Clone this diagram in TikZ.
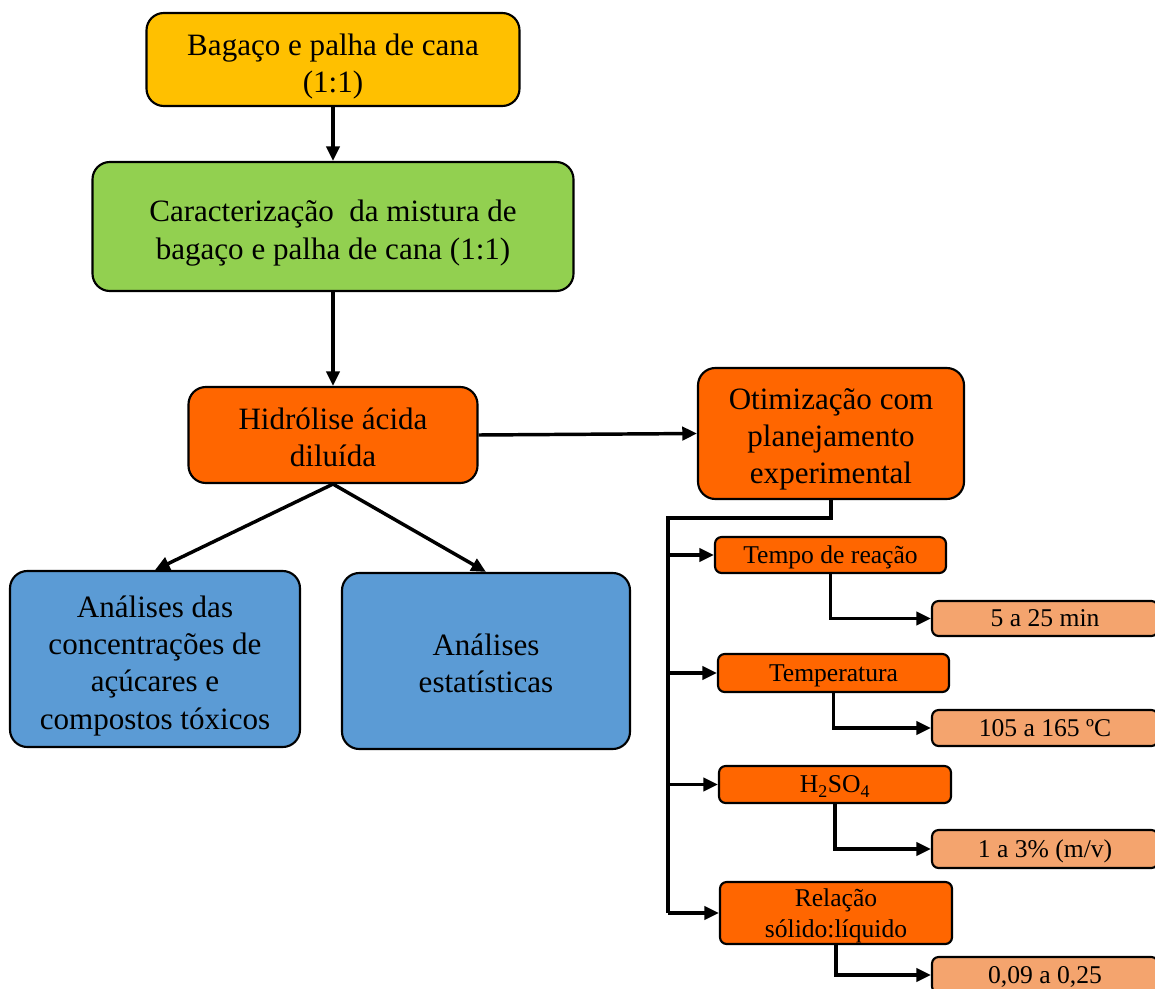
\documentclass[tikz,border=0pt]{standalone}
\usepackage{fontspec}
\setmainfont{Liberation Serif}
\usetikzlibrary{arrows.meta}
\definecolor{cyellow}{HTML}{FFC000}
\definecolor{cgreen}{HTML}{92D050}
\definecolor{corange}{HTML}{FF6600}
\definecolor{cblue}{HTML}{5B9BD5}
\definecolor{csalmon}{HTML}{F4A46E}
\newdimen\pxu
\pxu=0.75pt
\begin{document}
\begin{tikzpicture}[x=0.75pt,y=-0.75pt,
  big/.style={draw=black, line width=1.6pt, rounded corners=13pt, align=center,
    font=\fontsize{23.3}{28}\selectfont, inner sep=0pt, text depth=0pt},
  small/.style={draw=black, line width=1.6pt, rounded corners=5pt, align=center,
    font=\fontsize{19.2}{23}\selectfont, inner sep=0pt, text depth=0pt},
  valbox/.style={small, fill=csalmon, minimum width=226\pxu},
  arr/.style={line width=2.6pt, -{Triangle[length=11pt,width=10pt]}},
  ln/.style={line width=2.6pt}]
\useasboundingbox (0,0) rectangle (1155,988);
\clip (0,0) rectangle (1155,988);

\node[big, fill=cyellow, minimum width=373\pxu, minimum height=93\pxu, text height=50pt] (bag) at (333,59.5) {Bagaço e palha de cana\\(1:1)};
\node[big, fill=cgreen, minimum width=481\pxu, minimum height=129\pxu, text height=49pt] (car) at (333,226.5) {Caracterização\ \ da mistura de\\bagaço e palha de cana (1:1)};
\node[big, fill=corange, minimum width=289\pxu, minimum height=96\pxu, text height=47.5pt] (hid) at (333,435) {Hidrólise ácida\\diluída};
\node[big, fill=corange, minimum width=266\pxu, minimum height=131\pxu, text height=75.5pt] (oti) at (831,433.5) {Otimização com\\planejamento\\experimental};
\node[big, fill=cblue, minimum width=290\pxu, minimum height=176\pxu, text height=105pt] (an1) at (155,659) {Análises das\\concentrações de\\açúcares e\\compostos tóxicos};
\node[big, fill=cblue, minimum width=288\pxu, minimum height=176\pxu, text height=47.5pt] (an2) at (486,661) {Análises\\estatísticas};

\node[small, fill=corange, minimum width=231\pxu, minimum height=36\pxu] (tempo) at (830.5,555) {Tempo de reação};
\node[small, fill=corange, minimum width=231\pxu, minimum height=38\pxu] (temp) at (833.5,673) {Temperatura};
\node[small, fill=corange, minimum width=232\pxu, minimum height=37\pxu] (acid) at (835,784.5) {H\textsubscript{2}SO\textsubscript{4}};
\node[small, fill=corange, minimum width=232\pxu, minimum height=62\pxu] (rel) at (836,913) {Relação\\sólido:líquido};

\node[valbox, minimum height=35\pxu] (v1) at (1045,618.5) {5 a 25 min};
\node[valbox, minimum height=36\pxu] (v2) at (1045,728) {105 a 165 ºC};
\node[valbox, minimum height=38\pxu] (v3) at (1045,849) {1 a 3\% (m/v)};
\node[valbox, minimum height=36\pxu] (v4) at (1045,975) {0,09 a 0,25};

\draw[arr] (bag.south) -- (car.north);
\draw[arr] (car.south) -- (hid.north);
\draw[arr] (hid.east) -- (oti.west);
\draw[arr] (hid.south) -- (an1.north);
\draw[arr] (hid.south) -- (an2.north);

\coordinate (tr) at (668,518);
\draw[ln] (oti.south) |- (tr) -- (tr |- rel.west);
\draw[arr] (tr |- tempo.west) -- (tempo.west);
\draw[arr] (tr |- temp.west) -- (temp.west);
\draw[arr] (tr |- acid.west) -- (acid.west);
\draw[arr] (tr |- rel.west) -- (rel.west);

\draw[arr] (tempo.south) |- (v1.west);
\draw[arr] (temp.south) |- (v2.west);
\draw[arr] (acid.south) |- (v3.west);
\draw[arr] (rel.south) |- (v4.west);
\end{tikzpicture}
\end{document}
